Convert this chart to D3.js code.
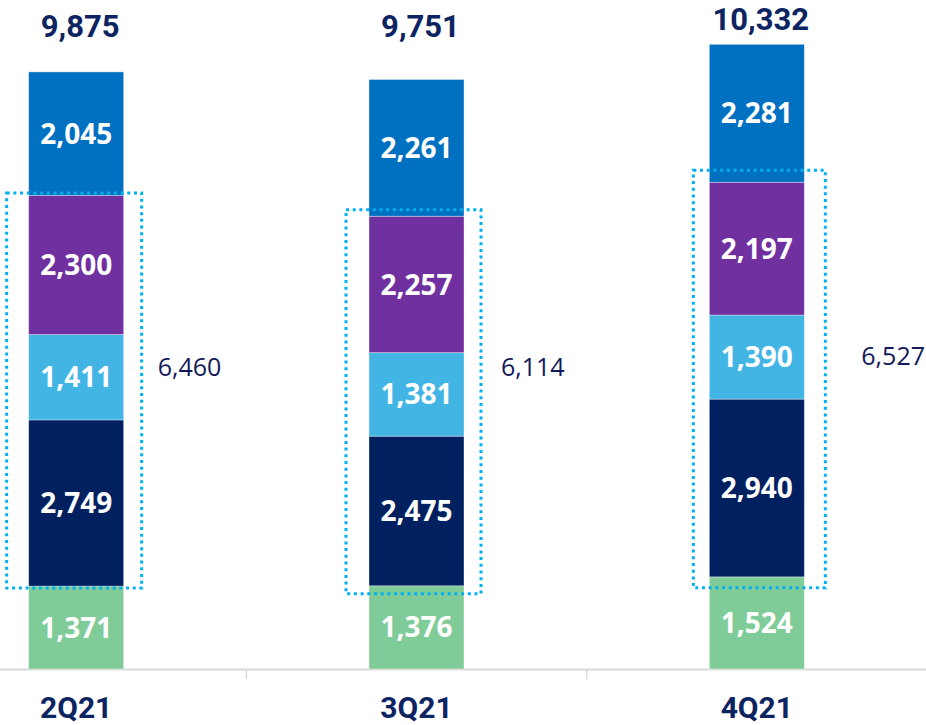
<!DOCTYPE html>
<html>
<head>
<meta charset="utf-8">
<script src="https://cdn.jsdelivr.net/npm/d3@7"></script>
<style>
  body { margin: 0; background: #fff; }
</style>
</head>
<body>
<div id="chart"></div>
<script>
// values, bottom segment first
var quarters = ["2Q21", "3Q21", "4Q21"];
var seg_green = [1371, 1376, 1524];
var seg_navy = [2749, 2475, 2940];
var seg_lightblue = [1411, 1381, 1390];
var seg_purple = [2300, 2257, 2197];
var seg_blue = [2045, 2261, 2281];
var totals = ["9,875", "9,751", "10,332"];
var box_totals = ["6,460", "6,114", "6,527"];

var keys = ["green", "navy", "lightblue", "purple", "blue"];
var colours = {
  green: "#80cc99",
  navy: "#002060",
  lightblue: "#43b5e5",
  purple: "#7030a0",
  blue: "#0070c0"
};

var width = 926,
    height = 725,
    baseline = 669,
    bar_width = 95;

// the dotted boxes were placed by hand, so each one sits a little differently
var box_pad_top = [2.5, 6.5, 12],
    box_pad_bottom = [2, 8, 11],
    box_pad_left = [22, 23, 16],
    box_pad_right = [18, 17, 21],
    box_label_gap = [16, 20, 36],
    box_label_dy = [-24, -35, -23];

var table = quarters.map(function(q, i) {
  return {
    quarter: q,
    green: seg_green[i],
    navy: seg_navy[i],
    lightblue: seg_lightblue[i],
    purple: seg_purple[i],
    blue: seg_blue[i]
  };
});

var svg = d3.select("#chart")
  .append("svg")
  .attr("width", width)
  .attr("height", height);

var x = d3.scaleBand()
  .domain(quarters)
  .range([-94, 927])
  .padding(0);

var y = d3.scaleLinear()
  .domain([0, 11065])
  .range([baseline, 0]);

function bar_left(q) { return x(q) + x.bandwidth() / 2 - bar_width / 2; }

var stacked = d3.stack().keys(keys)(table);

// axis line + tick marks at category boundaries
svg.append("line")
  .attr("x1", 0)
  .attr("x2", width)
  .attr("y1", baseline + 0.5)
  .attr("y2", baseline + 0.5)
  .attr("stroke", "#d9d9d9")
  .attr("stroke-width", 2);

svg.selectAll(".tick_mark")
  .data(quarters.slice(1))
  .enter()
  .append("line")
  .attr("class", "tick_mark")
  .attr("x1", function(d) { return x(d); })
  .attr("x2", function(d) { return x(d); })
  .attr("y1", baseline)
  .attr("y2", baseline + 10)
  .attr("stroke", "#d9d9d9")
  .attr("stroke-width", 1.5);

// bars
var layers = svg.selectAll(".layer")
  .data(stacked)
  .enter()
  .append("g")
  .attr("class", "layer")
  .attr("fill", function(d) { return colours[d.key]; });

layers.selectAll("rect")
  .data(function(d) { return d; })
  .enter()
  .append("rect")
  .attr("x", function(d) { return bar_left(d.data.quarter); })
  .attr("y", function(d) { return y(d[1]); })
  .attr("width", bar_width)
  .attr("height", function(d) { return y(d[0]) - y(d[1]); })
  .attr("stroke", "rgba(255,255,255,0.45)")
  .attr("stroke-width", 0.8);

layers.selectAll("text")
  .data(function(d) { return d; })
  .enter()
  .append("text")
  .attr("x", function(d) { return x(d.data.quarter) + x.bandwidth() / 2; })
  .attr("y", function(d) { return (y(d[0]) + y(d[1])) / 2; })
  .attr("dy", "0.36em")
  .attr("text-anchor", "middle")
  .style("font-family", "'Open Sans', sans-serif")
  .style("font-weight", "bold")
  .style("font-size", "28px")
  .attr("fill", "#ffffff")
  .text(function(d) { return d3.format(",")(d[1] - d[0]); });

// dotted boxes round navy + light blue + purple
var lower = stacked[0], upper = stacked[3];

svg.selectAll(".box")
  .data(quarters)
  .enter()
  .append("rect")
  .attr("class", "box")
  .attr("x", function(d, i) { return bar_left(d) - box_pad_left[i]; })
  .attr("y", function(d, i) { return y(upper[i][1]) - box_pad_top[i]; })
  .attr("width", function(d, i) { return bar_width + box_pad_left[i] + box_pad_right[i]; })
  .attr("height", function(d, i) {
    return y(lower[i][1]) - y(upper[i][1]) + box_pad_top[i] + box_pad_bottom[i];
  })
  .attr("fill", "none")
  .attr("stroke", "#00b0f0")
  .attr("stroke-width", 3)
  .style("stroke-dasharray", ("3, 3.7"));

svg.selectAll(".box_label")
  .data(box_totals)
  .enter()
  .append("text")
  .attr("class", "box_label")
  .attr("x", function(d, i) { return bar_left(quarters[i]) + bar_width + box_pad_right[i] + box_label_gap[i]; })
  .attr("y", function(d, i) {
    var top = y(upper[i][1]) - box_pad_top[i],
        bottom = y(lower[i][1]) + box_pad_bottom[i];
    return (top + bottom) / 2 + box_label_dy[i];
  })
  .attr("dy", "0.36em")
  .attr("text-anchor", "start")
  .style("font-family", "'Open Sans', sans-serif")
  .style("font-size", "25px")
  .attr("fill", "#14195a")
  .text(function(d) { return d; });

// totals above the bars
svg.selectAll(".total")
  .data(totals)
  .enter()
  .append("text")
  .attr("class", "total")
  .attr("x", function(d, i) { return x(quarters[i]) + x.bandwidth() / 2 + 4; })
  .attr("y", function(d, i) { return Math.min(37, y(stacked[4][i][1]) - 14); })
  .attr("text-anchor", "middle")
  .style("font-family", "Roboto, sans-serif")
  .style("font-weight", "bold")
  .style("font-size", "31px")
  .attr("fill", "#0c2461")
  .text(function(d) { return d; });

// category labels
svg.selectAll(".cat_label")
  .data(quarters)
  .enter()
  .append("text")
  .attr("class", "cat_label")
  .attr("x", function(d) { return x(d) + x.bandwidth() / 2; })
  .attr("y", 718)
  .attr("text-anchor", "middle")
  .style("font-family", "Roboto, sans-serif")
  .style("font-weight", "bold")
  .style("font-size", "30px")
  .attr("fill", "#0c2461")
  .text(function(d) { return d; });
</script>
</body>
</html>
